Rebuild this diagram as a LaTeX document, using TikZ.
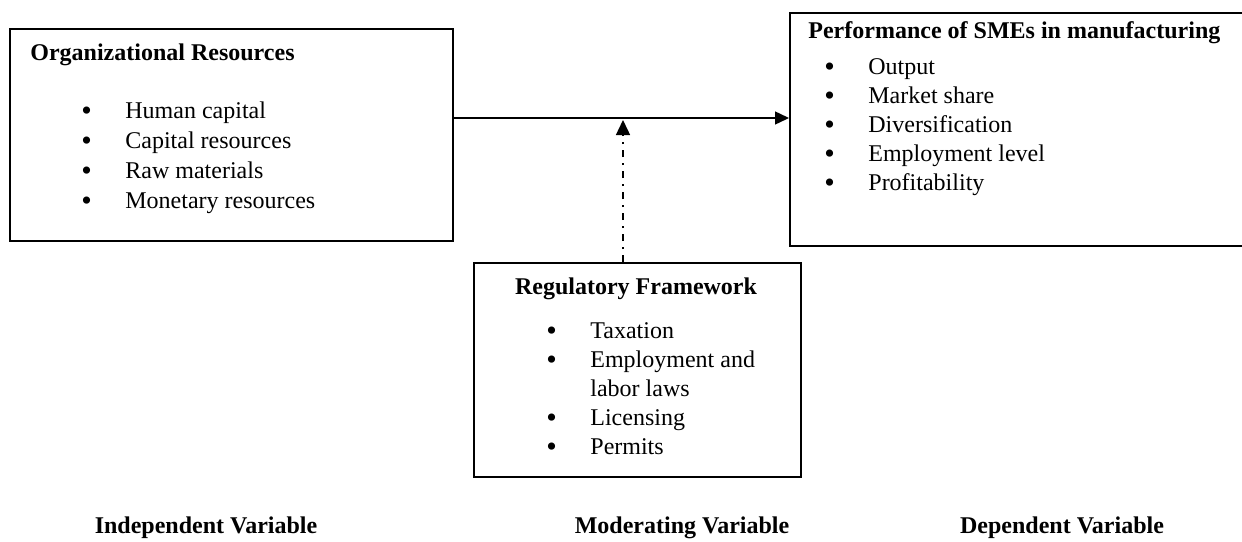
\documentclass[tikz,border=0pt]{standalone}
\usepackage{fontspec}
\setmainfont{Liberation Serif}
\usepackage{tikz}
\usetikzlibrary{arrows.meta,positioning}

\newcommand{\blt}{\raisebox{-1.2pt}{\fontsize{15}{14.5}\selectfont\textbullet}}

\begin{document}
\begin{tikzpicture}[
  x=0.5pt, y=-0.5pt,
  font=\fontsize{12}{14.5}\selectfont,
  varbox/.style={draw, line width=1pt, anchor=north west, inner sep=0pt},
  hd/.style={anchor=base west, inner sep=0pt, font=\fontsize{12}{14.5}\selectfont\bfseries},
  lst/.style={anchor=base west, inner sep=0pt, align=left},
  lbl/.style={anchor=base, inner sep=0pt, font=\fontsize{12}{14.5}\selectfont\bfseries},
  flow/.style={-{Triangle[length=7pt, width=6.5pt]}, line width=0.7pt},
  moder/.style={-{Triangle[length=7.5pt, width=7pt]}, line width=0.7pt,
                dash pattern=on 3.5pt off 3pt on 1pt off 3pt},
]
\useasboundingbox (0,0) rectangle (1242,541);

% ---------- the three boxes ----------
\node[varbox, minimum width=221.5pt, minimum height=106pt] (orgres) at (9,28) {};
\node[varbox, minimum width=232pt, minimum height=116.5pt] (perf) at (789,12) {};
\node[varbox, minimum width=163.5pt, minimum height=107pt] (reg) at (473,262) {};

% independent variable
\node[hd] (orgtitle) at (30,60) {Organizational Resources};
\node[lst, font=\fontsize{12}{15}\selectfont] (orglist) at (81,118) {%
\begin{tabular}[t]{@{}p{22pt}@{}l@{}}
\blt & Human capital\\
\blt & Capital resources\\
\blt & Raw materials\\
\blt & Monetary resources\\
\end{tabular}};

% dependent variable
\node[hd] (perftitle) at (808,38) {Performance of SMEs in manufacturing};
\node[lst] (perflist) at (824,74) {%
\begin{tabular}[t]{@{}p{22pt}@{}l@{}}
\blt & Output\\
\blt & Market share\\
\blt & Diversification\\
\blt & Employment level\\
\blt & Profitability\\
\end{tabular}};

% moderating variable
\node[hd, anchor=base] (regtitle) at (636,294) {Regulatory Framework};
\node[lst] (reglist) at (546,338) {%
\begin{tabular}[t]{@{}p{22pt}@{}l@{}}
\blt & Taxation\\
\blt & Employment and\\
     & labor laws\\
\blt & Licensing\\
\blt & Permits\\
\end{tabular}};

% ---------- links ----------
\draw[flow] ([yshift=8.5pt]orgres.east) -- ([yshift=8.5pt]orgres.east -| perf.west);

\coordinate (modtip) at (623,120);
\draw[moder] (modtip |- reg.north) -- (modtip);

% ---------- captions ----------
\node[lbl] (indep) at (206,533) {Independent Variable};
\node[lbl] (modvar) at (682,533) {Moderating Variable};
\node[lbl] (depvar) at (1062,533) {Dependent Variable};

\end{tikzpicture}
\end{document}
